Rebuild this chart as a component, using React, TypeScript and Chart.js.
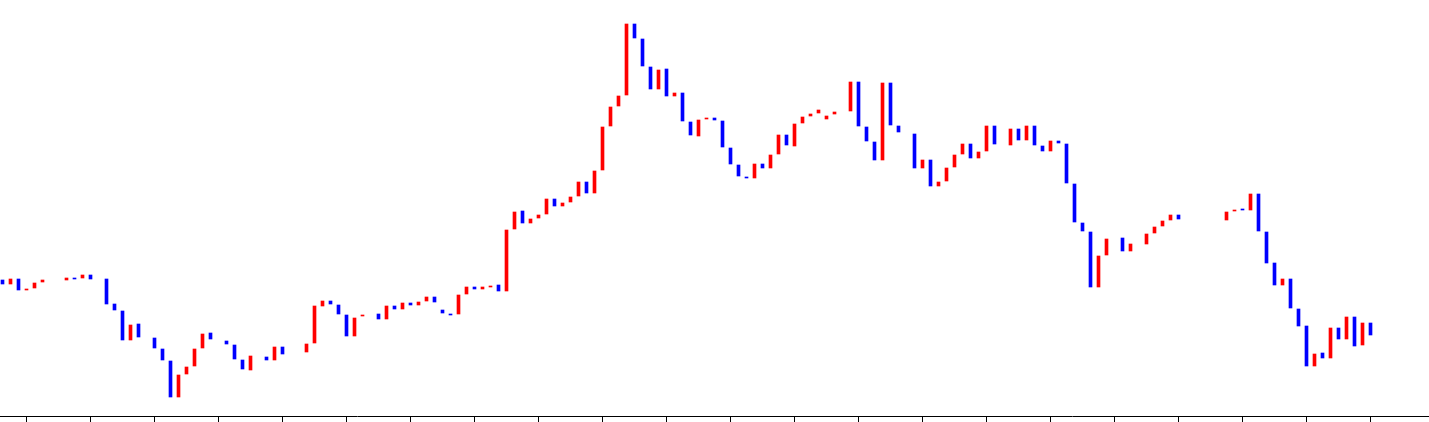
import React, { useEffect, useRef } from "react";
import { Chart, registerables } from "chart.js";

Chart.register(...registerables);

// Session index (0..171); null = no trading bar for that session
const OPEN: (number | null)[] = [
  136, 132, 137, 126, 128, 134, null, null, 136, 138,
  138, 141, null, 137, 112, 105, 76, 92, null, 78,
  67, 55, 19, 42, 50, 68, 83, null, 75, 71,
  56, 46, null, 59, 56, 69, null, null, 64, 73,
  110, 115, 111, 101, 80, 100, null, 102, 97, 110,
  107, 113, 111, 115, 119, 106, 102, 102, 122, 129,
  127, 129, 131, 125, 187, 205, 193, 198, 202, 217,
  210, 214, 220, 234, 223, 246, 290, 310, 321, 392,
  377, 349, 327, 347, 320, 323, 294, 280, 297, 298,
  295, 268, 251, 239, 238, 252, 248, 262, 281, 270,
  293, 300, 303, 297, 302, null, 305, 334, 289, 274,
  256, 333, 290, null, 282, 248, 256, 230, 235, 249,
  262, 272, 258, 265, 290, null, 271, 287, 276, 290,
  270, 265, 275, 272, 232, 193, 184, 129, 161, null,
  178, 165, null, 172, 183, 190, 196, 201, null, null,
  null, null, null, 196, 205, 207, 206, 222, 184, 153,
  131, 137, 107, 90, 50, 63, 58, 88, 77, 99,
  71, 93,
];

const CLOSE: (number | null)[] = [
  132, 137, 126, 127, 133, 136, null, null, 138, 137,
  141, 137, null, 112, 106, 76, 91, 79, null, 68,
  56, 19, 41, 49, 67, 82, 77, null, 72, 57,
  47, 60, null, 56, 69, 62, null, null, 72, 110,
  115, 112, 102, 80, 98, 101, null, 97, 110, 107,
  113, 111, 114, 119, 114, 103, 101, 121, 129, 127,
  129, 130, 125, 186, 204, 193, 197, 201, 217, 210,
  213, 219, 234, 223, 245, 289, 309, 320, 392, 378,
  350, 327, 346, 320, 323, 295, 281, 296, 298, 296,
  269, 252, 240, 238, 252, 248, 261, 281, 271, 292,
  299, 302, 306, 300, 304, null, 334, 290, 275, 256,
  333, 291, 284, null, 248, 256, 230, 234, 248, 261,
  272, 258, 264, 290, 272, null, 287, 276, 290, 271,
  265, 275, 273, 233, 194, 185, 129, 160, 177, null,
  165, 172, null, 182, 189, 195, 201, 197, null, null,
  null, null, null, 204, 206, 206, 222, 185, 153, 131,
  137, 108, 90, 50, 62, 58, 88, 77, 99, 70,
  93, 81,
];

// Sessions carrying an x-axis tick mark (labels hidden)
const TICK_SESSIONS: number[] = [
  3, 11, 19, 27, 35, 43, 51, 59, 67, 75, 83, 91, 99, 107, 115, 123, 131, 139,
  147, 155, 163, 171,
];

const UP_COLOR = "#ff0000";
const DOWN_COLOR = "#0000ff";

export default function App() {
  const ref = useRef<HTMLCanvasElement | null>(null);

  useEffect(() => {
    if (!ref.current) return;
    const points: { x: number; y: [number, number] }[] = [];
    OPEN.forEach((o, i) => {
      const c = CLOSE[i];
      if (o === null || c === null) return;
      points.push({ x: i, y: [o, c] });
    });
    const colors = points.map((p) => (p.y[1] > p.y[0] ? UP_COLOR : DOWN_COLOR));

    const chart = new Chart(ref.current, {
      type: "bar",
      data: {
        datasets: [
          {
            data: points as any,
            backgroundColor: colors,
            borderWidth: 0,
            borderSkipped: false,
            barThickness: 3,
            grouped: false,
          } as any,
        ],
      },
      options: {
        animation: false,
        responsive: false,
        layout: { padding: 0 },
        plugins: { legend: { display: false }, tooltip: { enabled: false } },
        scales: {
          x: {
            type: "linear",
            min: -0.3125,
            max: 178.3125,
            offset: false,
            afterBuildTicks: (axis: any) => {
              axis.ticks = TICK_SESSIONS.map((v) => ({ value: v }));
            },
            ticks: { display: false },
            grid: {
              display: true,
              offset: false,
              drawOnChartArea: false,
              drawTicks: true,
              tickLength: 6,
              color: "#000000",
              lineWidth: 1,
            },
            border: { display: true, color: "#000000", width: 1 },
          },
          y: {
            display: false,
            min: 0,
            max: 416,
          },
        },
      },
    });
    return () => chart.destroy();
  }, []);

  return (
    <div style={{ position: "absolute", left: 0, top: 0, width: 1429, height: 422 }}>
      <canvas ref={ref} width={1429} height={422} />
    </div>
  );
}
